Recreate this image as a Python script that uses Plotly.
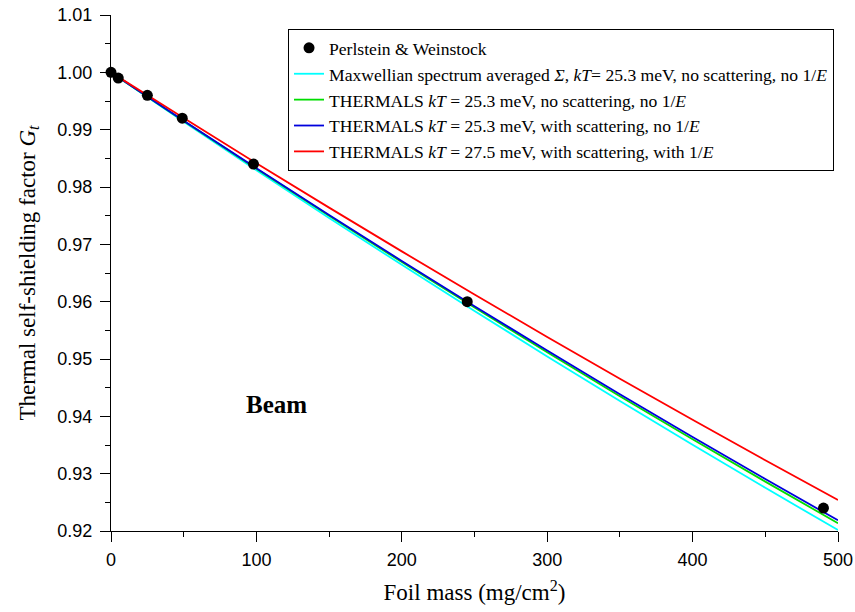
import plotly.graph_objects as go

# Experimental data (Perlstein & Weinstock)
exp_x = [0, 5, 25, 49, 98, 245, 490]
exp_y = [1.000, 0.999, 0.996, 0.992, 0.984, 0.960, 0.924]

# Calculated curves
calc_x = [0, 50, 100, 150, 200, 250, 300, 350, 400, 450, 500]
maxwell_y = [1.0, 0.99140, 0.98294, 0.97461, 0.96642, 0.95837, 0.95045, 0.94267, 0.93503, 0.92753, 0.92016]
th_noscat_y = [1.0, 0.99152, 0.98318, 0.97497, 0.96690, 0.95897, 0.95117, 0.94351, 0.93599, 0.92861, 0.92136]
th_scat_y = [1.0, 0.99157, 0.98328, 0.97512, 0.96710, 0.95922, 0.95147, 0.94386, 0.93639, 0.92906, 0.92186]
th_scat_1e_y = [1.0, 0.99202, 0.98415, 0.97640, 0.96877, 0.96125, 0.95385, 0.94657, 0.93939, 0.93234, 0.92540]

x_ticks = [0, 100, 200, 300, 400, 500]
x_minor = [50, 150, 250, 350, 450]

names = [
    "Perlstein &amp; Weinstock",
    "Maxwellian spectrum averaged <i>Σ</i>, <i>kT</i>= 25.3 meV, no scattering, no 1/<i>E</i>",
    "THERMALS <i>kT</i> = 25.3 meV, no scattering, no 1/<i>E</i>",
    "THERMALS <i>kT</i> = 25.3 meV, with scattering, no 1/<i>E</i>",
    "THERMALS <i>kT</i> = 27.5 meV, with scattering, with 1/<i>E</i>",
]

SERIF = "Liberation Serif"
XR = [0, 500]
YR = [0.92, 1.01]

fig = go.Figure()
for i, (ys, col) in enumerate([(maxwell_y, "#00FFFF"), (th_noscat_y, "#00DD00"),
                               (th_scat_y, "#0000DD"), (th_scat_1e_y, "#FF0000")]):
    fig.add_trace(go.Scatter(x=calc_x, y=ys, mode="lines", name=names[i + 1], legendrank=i + 2,
                             line=dict(color=col, width=1.8, shape="spline")))
fig.add_trace(go.Scatter(x=exp_x, y=exp_y, mode="markers", name=names[0], legendrank=1,
                         marker=dict(color="black", size=11), cliponaxis=False))

common = dict(showline=True, linecolor="black", linewidth=1.3,
              ticklen=10, tickwidth=1.3, tickcolor="black",
              showgrid=False, zeroline=False, automargin=False,
              ticklabeloverflow="allow",
              tickfont=dict(family="Liberation Sans", size=18, color="black"))

fig.update_layout(
    width=855, height=612,
    margin=dict(l=111, r=17, t=15, b=81),
    paper_bgcolor="white", plot_bgcolor="white",
    font=dict(family=SERIF, color="black"),
    xaxis=dict(range=XR, tickvals=x_ticks, ticks="outside", ticklabelstandoff=2,
               minor=dict(tickvals=x_minor, ticks="outside", ticklen=5,
                          tickwidth=1.3, tickcolor="black"),
               title=dict(text="Foil mass (mg/cm<sup>2</sup>)",
                          font=dict(family=SERIF, size=23)),
               **common),
    yaxis=dict(range=YR, dtick=0.01, tick0=0.92, tickformat=".2f", ticks="outside",
               ticklabelstandoff=4,
               minor=dict(dtick=0.005, ticks="outside", ticklen=5, tickwidth=1.3, tickcolor="black"),
               title=dict(text="Thermal self-shielding factor <i>G<sub>t</sub></i>",
                          font=dict(family=SERIF, size=23)),
               **common),
    xaxis2=dict(range=XR, overlaying="x", side="top", tickvals=x_ticks, ticks="inside",
                showticklabels=False,
                minor=dict(tickvals=x_minor, ticks="inside", ticklen=5,
                           tickwidth=1.3, tickcolor="black"),
                **common),
    yaxis2=dict(range=YR, overlaying="y", side="right", dtick=0.01, tick0=0.92, ticks="inside",
                showticklabels=False,
                minor=dict(dtick=0.005, ticks="inside", ticklen=5, tickwidth=1.3, tickcolor="black"),
                **common),
    legend=dict(x=0.2435, y=0.973, xanchor="left", yanchor="top",
                bgcolor="white", bordercolor="black", borderwidth=1,
                font=dict(family=SERIF, size=17.6),
                traceorder="normal", tracegroupgap=0, itemwidth=30),
    annotations=[dict(x=114, y=0.9421, xref="x", yref="y", text="<b>Beam</b>", showarrow=False,
                      font=dict(family=SERIF, size=25, color="black"))],
    showlegend=True,
)

fig.write_html("out.html")
